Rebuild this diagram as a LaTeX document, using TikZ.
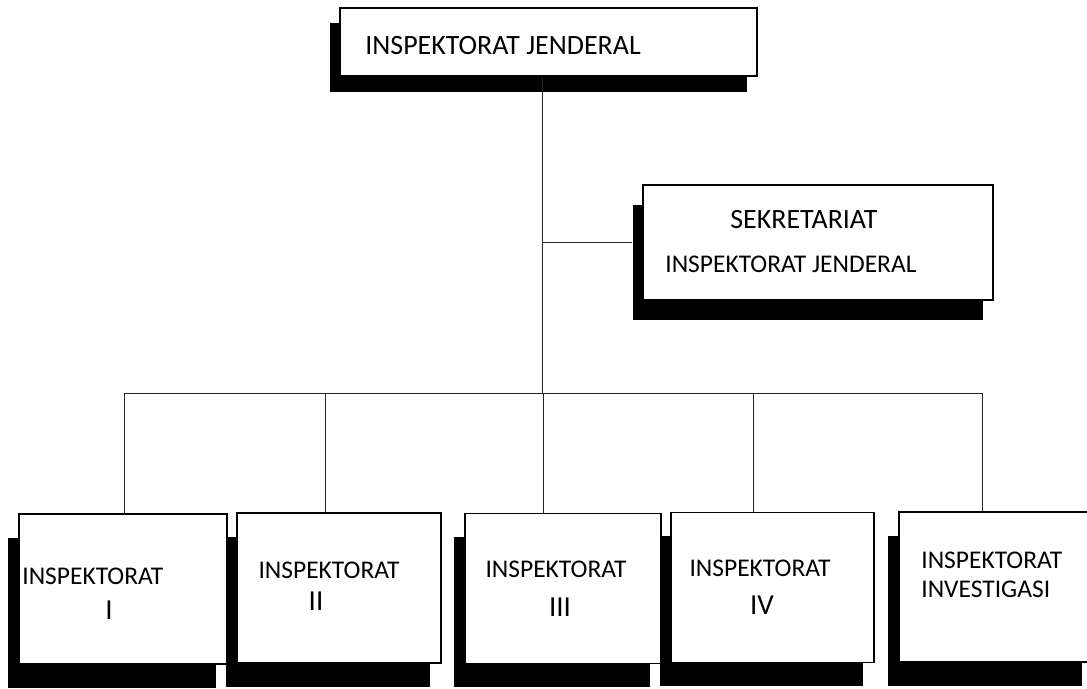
\documentclass[tikz,border=0pt]{standalone}
\usepackage{fontspec}
\setmainfont{Carlito}
\usetikzlibrary{shadows}
\tikzset{
    unit/.style={
        draw,
        line width=0.6pt,
        fill=white,
        inner sep=0pt,
        minimum height=30mm
    },
    shadowed/.style 2 args={
        drop shadow={shadow xshift=#1, shadow yshift=#2, fill=black, opacity=1}
    },
    link/.style={line width=0.45pt, draw=black!85},
    txt/.style={inner sep=0pt, font=\fontsize{14.5}{17}\selectfont},
    bigtxt/.style={inner sep=0pt, font=\fontsize{15.9}{19}\selectfont},
    numtxt/.style={inner sep=0pt, font=\fontsize{16.5}{19}\selectfont}
}

\begin{document}
\begin{tikzpicture}[x=0.2mm, y=-0.2mm]
  \clip (0,0) rectangle (1087,688);

  % Inspektorat Jenderal
  \node[unit, shadowed={-2.1mm}{-3.1mm}, minimum width=83.4mm, minimum height=13.6mm] (ij) at (548.5,42) {};
  \node[bigtxt, anchor=base west] (ijlbl) at (365,55) {INSPEKTORAT JENDERAL};

  % Sekretariat
  \node[unit, shadowed={-2.1mm}{-4mm}, minimum width=70mm, minimum height=23mm] (sek) at (818,242.5) {};
  \node[bigtxt, anchor=base west] (seklbl) at (730,228) {SEKRETARIAT};
  \node[txt, anchor=base west] (sekij) at (665,272) {INSPEKTORAT JENDERAL};

  % Inspektorat I - IV and Investigasi
  \node[unit, shadowed={-2.2mm}{-4.7mm}, minimum width=41.6mm] (i1) at (123,589) {};
  \node[unit, shadowed={-2.2mm}{-4.7mm}, minimum width=40.8mm] (i2) at (339,588) {};
  \node[unit, shadowed={-2.2mm}{-4.7mm}, minimum width=39.2mm] (i3) at (563,588.5) {};
  \node[unit, shadowed={-2.2mm}{-4.7mm}, minimum width=40.6mm] (i4) at (772.5,587.5) {};
  \node[unit, shadowed={-2.2mm}{-4.7mm}, minimum width=38.8mm] (i5) at (996,587) {};

  \node[txt, anchor=base west] (t1) at (22,584) {INSPEKTORAT};
  \node[numtxt, anchor=base] (n1) at (109,619) {I};
  \node[txt, anchor=base] (t2) at (329,578) {INSPEKTORAT};
  \node[numtxt, anchor=base] (n2) at (316,610) {II};
  \node[txt, anchor=base] (t3) at (556,577) {INSPEKTORAT};
  \node[numtxt, anchor=base] (n3) at (560,616) {III};
  \node[txt, anchor=base] (t4) at (760,576) {INSPEKTORAT};
  \node[numtxt, anchor=base] (n4) at (762,614) {IV};
  \node[txt, anchor=base west] (t5) at (921,568) {INSPEKTORAT};
  \node[txt, anchor=base west] (t5b) at (921,597) {INVESTIGASI};

  % Lines
  \coordinate (hub) at (542,393);
  \draw[link] (ij.south -| hub) -- (hub);
  \draw[link] (hub |- sek.west) -- ([xshift=-2.1mm]sek.west);
  \foreach \n/\x in {1/124, 2/325, 3/543, 4/753, 5/982}
    \coordinate (d\n) at (\x,393);
  \draw[link] (d1) -- (d5);
  \foreach \n in {1,...,5}
    \draw[link] (d\n) -- (d\n |- i\n.north);
\end{tikzpicture}
\end{document}
